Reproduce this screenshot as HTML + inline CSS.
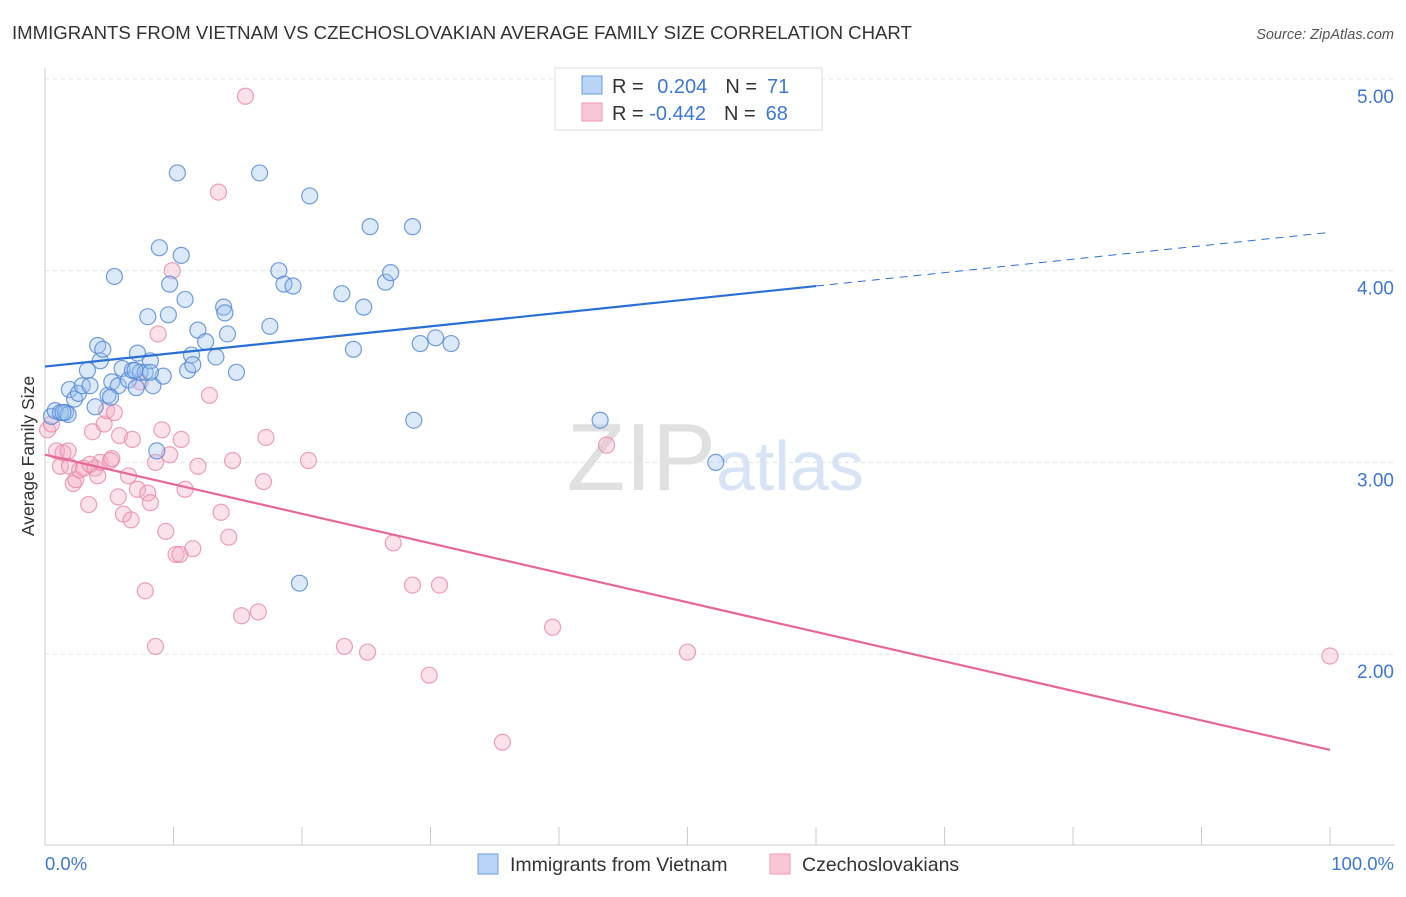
<!DOCTYPE html>
<html><head><meta charset="utf-8"><style>
body{margin:0;background:#fff;font-family:"Liberation Sans",sans-serif;}
svg text{font-family:"Liberation Sans",sans-serif;}
</style></head><body>
<svg id="chart" width="1406" height="892">
<text x="12" y="39" font-size="18.6" fill="#333">IMMIGRANTS FROM VIETNAM VS CZECHOSLOVAKIAN AVERAGE FAMILY SIZE CORRELATION CHART</text>
<text x="1394" y="39" font-size="14.5" fill="#555" font-style="italic" text-anchor="end">Source: ZipAtlas.com</text>
<text x="716" y="490" font-size="96" fill="#e0e0e0" font-family="Liberation Serif" text-anchor="end">ZIP</text>
<text x="716" y="490" font-size="70" fill="#d6e4f5">atlas</text>
<g id="grid"></g><g id="axes"></g><g id="marks"></g>
<text transform="translate(34,456) rotate(-90)" font-size="17.5" fill="#333" text-anchor="middle">Average Family Size</text>
<text x="45" y="870" font-size="18.5" fill="#3b78d8">0.0%</text>
<text x="1394" y="870" font-size="18.5" fill="#3b78d8" text-anchor="end">100.0%</text>
<g>
<rect x="555" y="68" width="267" height="62" fill="#fff" stroke="#ddd"/>
<rect x="582" y="76" width="20" height="18" fill="#b8d4f6" stroke="#6b9ee0"/>
<rect x="582" y="103" width="20" height="18" fill="#f9c6d6" stroke="#ee9ab6"/>
<text x="612" y="93" font-size="20" fill="#333">R = <tspan fill="#3b78d8" dx="8">0.204</tspan><tspan dx="18" fill="#333">N =</tspan><tspan dx="10" fill="#3b78d8">71</tspan></text>
<text x="612" y="120" font-size="20" fill="#333">R = <tspan fill="#3b78d8">-0.442</tspan><tspan dx="18" fill="#333">N =</tspan><tspan dx="10" fill="#3b78d8">68</tspan></text>
</g>
<g>
<rect x="478" y="854" width="20" height="20" fill="#b8d4f6" stroke="#6b9ee0"/>
<text x="510" y="871" font-size="19.5" fill="#333">Immigrants from Vietnam</text>
<rect x="770" y="854" width="20" height="20" fill="#f9c6d6" stroke="#ee9ab6"/>
<text x="802" y="871" font-size="19.5" fill="#333">Czechoslovakians</text>
</g>
</svg>
<script>
const blueX=[0.5,0.8,1.2,1.6,1.8,1.9,2.3,2.6,2.9,3.3,3.5,3.9,4.1,4.3,4.5,4.9,5.2,5.4,5.7,6.0,6.5,6.8,7.1,7.2,7.4,7.8,8.0,8.2,8.4,8.7,8.9,9.2,9.6,9.7,10.3,10.6,10.9,11.1,11.4,11.5,11.9,12.5,13.3,13.9,14.0,14.2,14.9,16.7,17.5,18.2,18.6,19.3,20.6,23.1,24.0,24.8,25.3,26.5,26.9,28.6,28.7,29.2,30.4,31.6,43.2,52.2,19.8,1.4,5.1,7.0,8.2];
const blueY=[3.24,3.27,3.26,3.26,3.25,3.38,3.33,3.36,3.40,3.48,3.40,3.29,3.61,3.53,3.59,3.35,3.42,3.97,3.40,3.49,3.43,3.48,3.39,3.57,3.47,3.47,3.76,3.53,3.40,3.06,4.12,3.45,3.77,3.93,4.51,4.08,3.85,3.48,3.56,3.51,3.69,3.63,3.55,3.81,3.78,3.67,3.47,4.51,3.71,4.00,3.93,3.92,4.39,3.88,3.59,3.81,4.23,3.94,3.99,4.23,3.22,3.62,3.65,3.62,3.22,3.00,2.37,3.26,3.34,3.48,3.47];
const pinkX=[0.2,0.5,0.9,1.2,1.4,1.8,1.9,2.2,2.4,2.7,3.0,3.4,3.7,3.9,4.1,4.3,4.6,4.8,5.1,5.2,5.4,5.7,5.8,6.1,6.5,6.7,6.8,7.2,7.4,7.8,8.0,8.2,8.6,8.6,8.8,9.1,9.4,9.7,9.9,10.2,10.5,10.6,10.9,11.5,11.9,12.8,13.5,13.7,14.3,14.6,15.3,15.6,16.6,17.0,17.2,20.5,23.3,25.1,27.1,28.6,29.9,30.7,35.6,39.5,43.7,50.0,100,3.5];
const pinkY=[3.17,3.20,3.06,2.98,3.05,3.06,2.98,2.89,2.91,2.96,2.97,2.78,3.16,2.97,2.93,3.00,3.20,3.27,3.01,3.02,3.26,2.82,3.14,2.73,2.93,2.70,3.12,2.86,3.42,2.33,2.84,2.79,3.00,2.04,3.67,3.17,2.64,3.04,4.00,2.52,2.52,3.12,2.86,2.55,2.98,3.35,4.41,2.74,2.61,3.01,2.20,4.91,2.22,2.90,3.13,3.01,2.04,2.01,2.58,2.36,1.89,2.36,1.54,2.14,3.09,2.01,1.99,2.99];
const yTicks=[2,3,4,5];
const yTickLabels=["2.00","3.00","4.00","5.00"];
const xTicks=[0,10,20,30,40,50,60,70,80,90,100];
const blueTrend=[3.50,4.20];
const pinkTrend=[3.04,1.50];
const blueSolidEnd=60;

const NS="http://www.w3.org/2000/svg";
const sx=v=>45+v*12.85;
const sy=v=>79+(5-v)*191.7;
function mk(tag,attrs,parent){const e=document.createElementNS(NS,tag);for(const k in attrs)e.setAttribute(k,attrs[k]);document.getElementById(parent).appendChild(e);return e;}
yTicks.forEach((t,i)=>{
  const g=mk('line',{x1:45,x2:1395,y1:sy(t),y2:sy(t),stroke:'#e2e2e2','stroke-dasharray':'4,4'},'grid');
  
  
  const l=mk('text',{x:1394,y:sy(t)+24,'font-size':19,fill:'#3b78d8','text-anchor':'end'},'axes');
  l.textContent=yTickLabels[i];
  
  
});
const ax=mk('line',{x1:45,x2:45,y1:68,y2:845,stroke:'#ccc'},'axes');


const bx=mk('line',{x1:45,x2:1395,y1:845,y2:845,stroke:'#ccc'},'axes');


xTicks.forEach(t=>{
  const k=mk('line',{x1:sx(t),x2:sx(t),y1:827,y2:845,stroke:'#ccc'},'axes');
  
  
});
function pts(X,Y,fill,stroke,name){
  X.forEach((x,i)=>{
    const c=mk('circle',{cx:sx(x),cy:sy(Y[i]),r:8,fill:fill,'fill-opacity':0.35,stroke:stroke,'stroke-width':1.2,'stroke-opacity':0.8},'marks');
    
    
  });
}
pts(pinkX,pinkY,'#f4aac4','#e889a8','czech-point');
pts(blueX,blueY,'#9cc0ee','#4f86d6','vietnam-point');
const bl=x=>blueTrend[0]+(blueTrend[1]-blueTrend[0])*x/100;
const l1=mk('line',{x1:sx(0),y1:sy(bl(0)),x2:sx(blueSolidEnd),y2:sy(bl(blueSolidEnd)),stroke:'#2a6fd6','stroke-width':2.2},'marks');


const l2=mk('line',{x1:sx(blueSolidEnd),y1:sy(bl(blueSolidEnd)),x2:sx(100),y2:sy(bl(100)),stroke:'#2a6fd6','stroke-width':1,'stroke-dasharray':'8,6'},'marks');


const l3=mk('line',{x1:sx(0),y1:sy(pinkTrend[0]),x2:sx(100),y2:sy(pinkTrend[1]),stroke:'#e8679a','stroke-width':2.2},'marks');


</script>
</body></html>
